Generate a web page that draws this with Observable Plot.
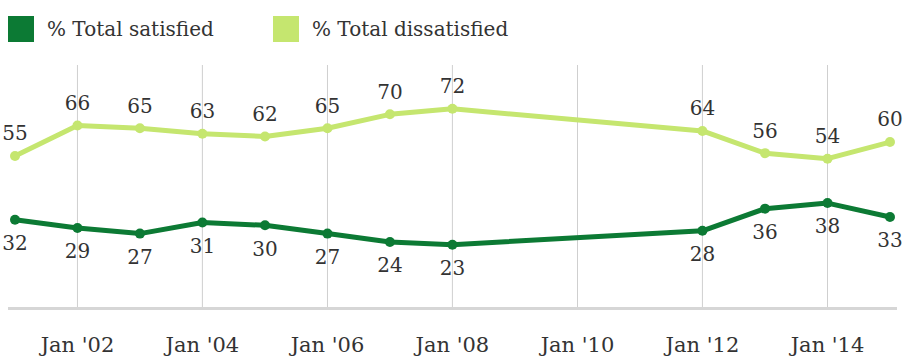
<!DOCTYPE html>
<html><head><meta charset="utf-8">
<script src="https://cdn.jsdelivr.net/npm/d3@7"></script>
<script src="https://cdn.jsdelivr.net/npm/@observablehq/plot@0.6"></script>
<style>
body{margin:0;background:#fff;font-family:"DejaVu Serif",serif;color:#333}
#legend{height:50px;position:relative}
.item{position:absolute;top:16px;height:26px;display:flex;align-items:center;font-size:20px;white-space:nowrap}
.sw{width:26px;height:26px;margin-right:13px;flex:none}
</style></head><body>
<div id="legend"></div><div id="chart"></div>
<script>
const years = [2001, 2002, 2003, 2004, 2005, 2006, 2007, 2008, 2012, 2013, 2014, 2015];
const satisfied = [32, 29, 27, 31, 30, 27, 24, 23, 28, 36, 38, 33];
const dissatisfied = [55, 66, 65, 63, 62, 65, 70, 72, 64, 56, 54, 60];
const seriesNames = ["% Total satisfied", "% Total dissatisfied"];
const seriesColors = ["#0c7a34", "#c5e66f"];
const tickYears = [2002, 2004, 2006, 2008, 2010, 2012, 2014];
const tickLabels = ["Jan '02", "Jan '04", "Jan '06", "Jan '08", "Jan '10", "Jan '12", "Jan '14"];

const jan = y => new Date(Date.UTC(y, 0, 1));
const rows = [];
years.forEach((y, i) => {
  rows.push({date: jan(y), value: satisfied[i], series: seriesNames[0]});
  rows.push({date: jan(y), value: dissatisfied[i], series: seriesNames[1]});
});
const sat = rows.filter(d => d.series === seriesNames[0]);
const dis = rows.filter(d => d.series === seriesNames[1]);
const tickDates = tickYears.map(jan);
const labelOf = new Map(tickDates.map((d, i) => [+d, tickLabels[i]]));

// legend
const legend = document.getElementById("legend");
const lefts = [8, 273];
seriesNames.forEach((name, i) => {
  const it = document.createElement("div");
  it.className = "item";
  it.style.left = lefts[i] + "px";
  it.innerHTML = `<span class="sw" style="background:${seriesColors[i]}"></span><span>${name}</span>`;
  legend.appendChild(it);
});

const chart = Plot.plot({
  width: 904,
  height: 306,
  marginLeft: 8,
  marginRight: 7,
  marginTop: 15,
  marginBottom: 48,
  style: {fontFamily: "'DejaVu Serif', serif", fontSize: "20px", color: "#333", background: "#fff", overflow: "visible"},
  x: {type: "utc", domain: [new Date(Date.UTC(2000, 10, 24)), new Date(Date.UTC(2015, 1, 14))], axis: null},
  y: {domain: [0, 87.6], axis: null},
  color: {domain: seriesNames, range: seriesColors},
  marks: [
    Plot.ruleX(tickDates, {x: d => d, stroke: "#cfcfcf", strokeWidth: 1}),
    Plot.ruleY([0], {stroke: "#d6d6d6", strokeWidth: 3}),
    Plot.axisX({ticks: tickDates, tickFormat: d => labelOf.get(+d), tickSize: 0, tickPadding: 29, fontSize: 21, fontFamily: "'DejaVu Serif', serif", fill: "#333"}),
    Plot.line(rows, {x: "date", y: "value", z: "series", stroke: "series", strokeWidth: 5, curve: "linear"}),
    Plot.dot(rows, {x: "date", y: "value", fill: "series", r: 5}),
    Plot.text(dis, {x: "date", y: "value", text: "value", dy: -22, fontSize: 20, fontFamily: "'DejaVu Serif', serif", fill: "#333"}),
    Plot.text(sat, {x: "date", y: "value", text: "value", dy: 24, fontSize: 20, fontFamily: "'DejaVu Serif', serif", fill: "#333"})
  ]
});
document.getElementById("chart").appendChild(chart);
</script>
</body></html>
